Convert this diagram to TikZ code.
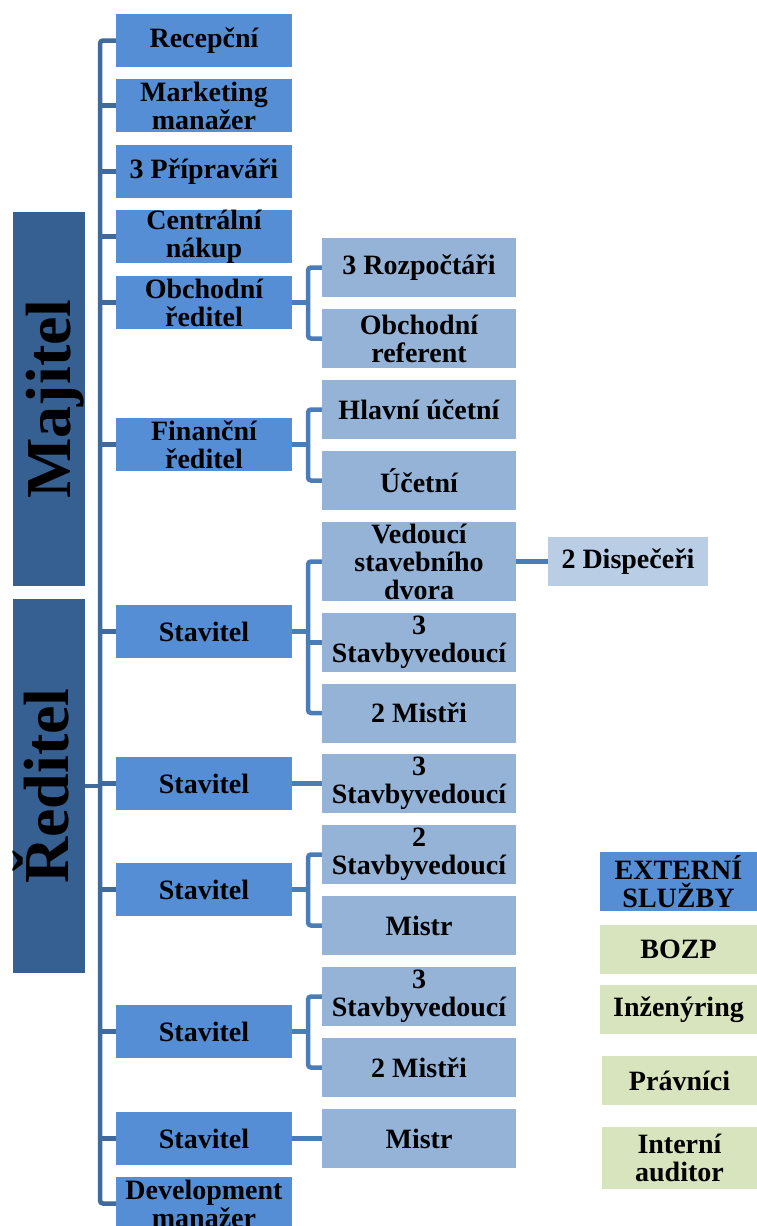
\documentclass[tikz,border=0pt]{standalone}
\usepackage{fontspec}
\setmainfont{Liberation Serif}
\definecolor{lone}{HTML}{558ED5}
\definecolor{ltwo}{HTML}{95B3D7}
\definecolor{lthree}{HTML}{B9CDE5}
\definecolor{dark}{HTML}{376092}
\definecolor{grn}{HTML}{D7E4BD}
\definecolor{trunkc}{HTML}{3F6A9C}
\definecolor{subc}{HTML}{4A7CB8}
\begin{document}
\begin{tikzpicture}[x=1pt,y=1pt,
  box/.style={inner sep=0pt, align=center, text=black,
    font=\fontsize{28}{28}\selectfont\bfseries},
  lone/.style={box, fill=lone, minimum width=176pt, minimum height=53pt},
  ltwo/.style={box, fill=ltwo, minimum width=194pt, minimum height=59pt},
  lthree/.style={box, fill=lthree, minimum width=160pt, minimum height=49pt},
  extb/.style={box, fill=grn, minimum width=157pt, minimum height=49pt},
  topb/.style={fill=dark, minimum width=72pt, minimum height=374pt, inner sep=0pt},
  bigtext/.style={rotate=90, anchor=base, inner sep=0pt, text=black,
    font=\fontsize{64}{64}\selectfont\bfseries},
  trunkline/.style={draw=trunkc, line width=4.5pt, rounded corners=3pt},
  subline/.style={draw=subc, line width=4.5pt, rounded corners=3pt}]
\useasboundingbox (0,0) rectangle (757,-1226);
\clip (0,0) rectangle (757,-1226);

% owner / director
\node[topb] (maj) at (49,-399) {};
\node[bigtext] (majt) at (70,-399) {Majitel};
\node[topb] (red) at (49,-786) {};
\node[bigtext] (redt) at (68,-786) {Ředitel};

% level one
\node[lone] (rec) at (204,-40.5) {Recepční};
\node[lone] (mkt) at (204,-105.5) {Marketing\\manažer};
\node[lone] (pri) at (204,-171.5) {3 Přípraváři};
\node[lone] (cen) at (204,-236.5) {Centrální\\nákup};
\node[lone] (obr) at (204,-302.5) {Obchodní\\ředitel};
\node[lone] (fin) at (204,-444.5) {Finanční\\ředitel};
\node[lone] (st1) at (204,-631.5) {Stavitel};
\node[lone] (st2) at (204,-783.5) {Stavitel};
\node[lone] (st3) at (204,-889.5) {Stavitel};
\node[lone] (st4) at (204,-1031.5) {Stavitel};
\node[lone] (st5) at (204,-1138.5) {Stavitel};
\node[lone] (dev) at (204,-1203.5) {Development\\manažer};

% level two
\node[ltwo] (roz) at (419,-267.5) {3 Rozpočtáři};
\node[ltwo] (ref) at (419,-338.5) {Obchodní\\referent};
\node[ltwo] (hla) at (419,-409.5) {Hlavní účetní};
\node[ltwo] (uce) at (419,-480.5) {Účetní};
\node[ltwo, minimum height=79pt] (ved) at (419,-561.5) {Vedoucí\\stavebního\\dvora};
\node[ltwo] (sv1) at (419,-642.5) {3\\Stavbyvedoucí};
\node[ltwo] (mi1) at (419,-713) {2 Mistři};
\node[ltwo] (sv2) at (419,-783.5) {3\\Stavbyvedoucí};
\node[ltwo] (sv3) at (419,-854.5) {2\\Stavbyvedoucí};
\node[ltwo] (mi2) at (419,-925.5) {Mistr};
\node[ltwo] (sv4) at (419,-996.5) {3\\Stavbyvedoucí};
\node[ltwo] (mi3) at (419,-1067.5) {2 Mistři};
\node[ltwo] (mi4) at (419,-1138.5) {Mistr};

% level three
\node[lthree] (dis) at (628,-561.5) {2 Dispečeři};

% external services
\node[box, fill=lone, minimum width=157pt, minimum height=59pt] (ext) at (678.5,-881.5) {EXTERNÍ\\SLUŽBY};
\node[extb] (boz) at (678.5,-949.5) {BOZP};
\node[extb] (inz) at (678.5,-1009.5) {Inženýring};
\node[extb, minimum width=155pt] (pra) at (679.5,-1080.5) {Právníci};
\node[extb, minimum width=155pt, minimum height=62pt] (aud) at (679.5,-1158) {Interní\\auditor};

% trunk
\coordinate (tx) at (100,0);
\coordinate (bx) at (308,0);
\path[trunkline] (rec.west) -- (rec.west -| tx) -- (dev.west -| tx) -- (dev.west);
\foreach \n in {mkt,pri,cen,obr,fin,st1,st2,st3,st4,st5}
  \path[trunkline] (\n.west -| tx) -- (\n.west);
\path[trunkline] (red.east) -- (red.east -| tx);

% sub connectors
\path[subline] (roz.west) -- (roz.west -| bx) -- (ref.west -| bx) -- (ref.west);
\path[subline] (obr.east) -- (obr.east -| bx);
\path[subline] (hla.west) -- (hla.west -| bx) -- (uce.west -| bx) -- (uce.west);
\path[subline] (fin.east) -- (fin.east -| bx);
\path[subline] (ved.west) -- (ved.west -| bx) -- (mi1.west -| bx) -- (mi1.west);
\path[subline] (sv1.west -| bx) -- (sv1.west);
\path[subline] (st1.east) -- (st1.east -| bx);
\path[subline] (st2.east) -- (sv2.west);
\path[subline] (sv3.west) -- (sv3.west -| bx) -- (mi2.west -| bx) -- (mi2.west);
\path[subline] (st3.east) -- (st3.east -| bx);
\path[subline] (sv4.west) -- (sv4.west -| bx) -- (mi3.west -| bx) -- (mi3.west);
\path[subline] (st4.east) -- (st4.east -| bx);
\path[subline] (st5.east) -- (mi4.west);
\path[subline] (ved.east) -- (dis.west);
\end{tikzpicture}
\end{document}
